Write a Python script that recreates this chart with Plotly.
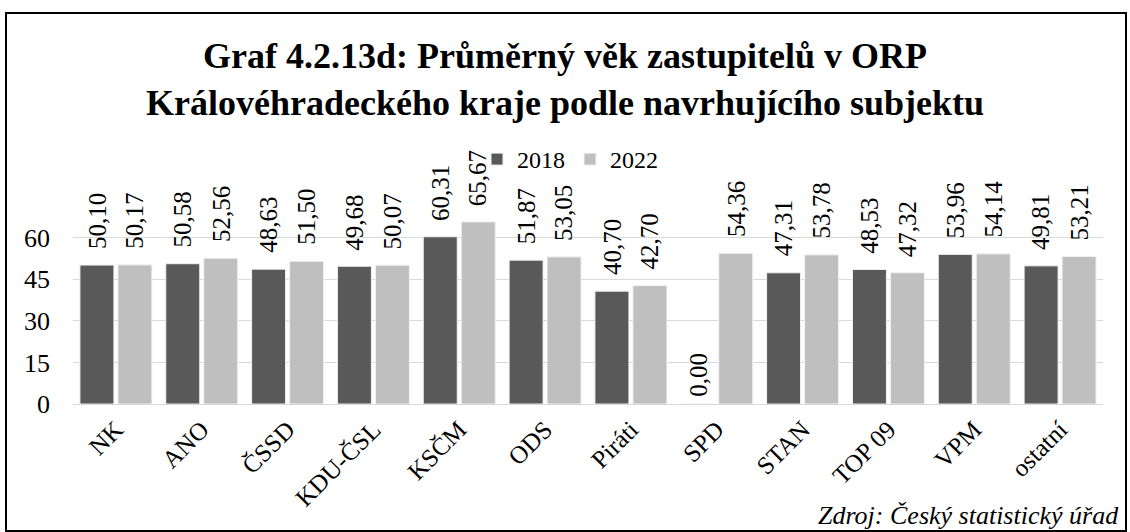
import plotly.graph_objects as go

categories = ["NK", "ANO", "ČSSD", "KDU-ČSL", "KSČM", "ODS", "Piráti", "SPD", "STAN", "TOP 09", "VPM", "ostatní"]
values_2018 = [50.10, 50.58, 48.63, 49.68, 60.31, 51.87, 40.70, 0.00, 47.31, 48.53, 53.96, 49.81]
values_2022 = [50.17, 52.56, 51.50, 50.07, 65.67, 53.05, 42.70, 54.36, 53.78, 47.32, 54.14, 53.21]
series_names = ["2018", "2022"]
series_colors = ["#595959", "#bfbfbf"]
y_ticks = [0, 15, 30, 45, 60]

FONT = "Liberation Serif"
W, H = 1130, 532
L, R, T, B = 73, 27, 196, 128
pw, ph = W - L - R, H - T - B
FS = 25

fig = go.Figure()
for name, vals, col in zip(series_names, [values_2018, values_2022], series_colors):
    fig.add_trace(go.Bar(
        x=categories, y=vals, name=name,
        marker=dict(color=col, line=dict(color="#f2f2f2", width=1)),
    ))

def fmt(v):
    return f"{v:.2f}".replace(".", ",")

annotations = []
for s, vals in enumerate([values_2018, values_2022]):
    for c, v in zip(categories, vals):
        annotations.append(dict(
            x=c, y=v, xref="x", yref="y", text=fmt(v), showarrow=False,
            textangle=-90, xanchor="center", yanchor="bottom",
            xshift=-19 if s == 0 else 19, yshift=5 if v == 0 else 14,
            font=dict(family=FONT, size=FS, color="#000000"),
        ))

annotations.append(dict(
    x=(1121 - L) / pw, y=(H - B - 532) / ph, xref="paper", yref="paper",
    text="<i>Zdroj: Český statistický úřad</i>", showarrow=False,
    xanchor="right", yanchor="bottom",
    font=dict(family=FONT, size=26, color="#000000"),
))

fig.update_layout(
    width=W, height=H,
    margin=dict(l=L, r=R, t=T, b=B, autoexpand=False),
    paper_bgcolor="white", plot_bgcolor="white",
    barmode="group", bargap=0.115, bargroupgap=0.105,
    title=dict(
        text="<b>Graf 4.2.13d: Průměrný věk zastupitelů v ORP<br>Královéhradeckého kraje podle navrhujícího subjektu</b>",
        x=0.5, xanchor="center", y=1 - 68 / H, yanchor="middle",
        font=dict(family=FONT, size=36, color="#000000"),
    ),
    legend=dict(
        orientation="h", x=(477 - L) / pw, xanchor="left",
        y=(H - B - 137) / ph, yanchor="top",
        font=dict(family=FONT, size=24, color="#000000"),
        itemwidth=30, bgcolor="rgba(0,0,0,0)", traceorder="normal",
    ),
    font=dict(family=FONT, color="#000000"),
    annotations=annotations,
    shapes=[dict(
        type="rect", xref="paper", yref="paper",
        x0=(6 - L) / pw, x1=(1126 - L) / pw,
        y0=(H - B - 531) / ph, y1=(H - B - 13) / ph,
        line=dict(color="#000000", width=2), fillcolor="rgba(0,0,0,0)", layer="below",
    )],
)
fig.update_xaxes(
    tickangle=-45, tickfont=dict(family=FONT, size=FS, color="#000000"),
    showline=True, linecolor="#d9d9d9", linewidth=1, ticks="", showgrid=False,
)
fig.update_yaxes(
    range=[0, 75], tickvals=y_ticks, ticktext=[str(t) for t in y_ticks],
    tickfont=dict(family=FONT, size=26, color="#000000"),
    showgrid=True, gridcolor="#d9d9d9", gridwidth=1, zeroline=False,
    showline=False, ticks="", ticklabelstandoff=22,
)

fig.write_html(
    "out.html",
    config={"displayModeBar": False},
    post_script="document.body.style.margin='0';document.body.style.overflow='hidden';",
)
